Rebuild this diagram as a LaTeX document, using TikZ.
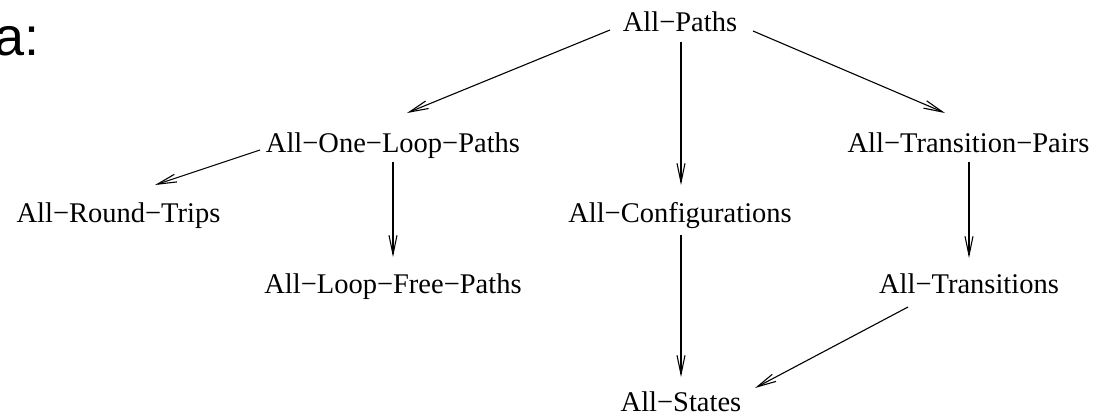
\documentclass[tikz,border=0pt]{standalone}
\usepackage{fontspec}
\setmainfont{Liberation Serif}
\newfontfamily\labelsans{Liberation Sans}
\usetikzlibrary{arrows.meta}
\begin{document}
\begin{tikzpicture}[x=1pt,y=-1pt,
  crit/.style={anchor=base,inner sep=0pt,font=\fontsize{28.5}{34}\selectfont},
  subsumes/.style={line width=1.1pt,-{Straight Barb[length=19pt,width=8pt,line width=1.1pt]}}]
\useasboundingbox (0,0) rectangle (1107,417);

% panel tag
\node[anchor=base west,inner sep=0pt,font=\labelsans\fontsize{54}{60}\selectfont] (tag) at (-6,56) {a:};

% coverage criteria
\node[crit] (p)   at (680,32)    {All−Paths};
\node[crit] (olp) at (393,152)   {All−One−Loop−Paths};
\node[crit] (tp)  at (968.5,152) {All−Transition−Pairs};
\node[crit] (rt)  at (118.5,222) {All−Round−Trips};
\node[crit] (cfg) at (680,222)   {All−Configurations};
\node[crit] (lfp) at (393,293)   {All−Loop−Free−Paths};
\node[crit] (tr)  at (969,293)   {All−Transitions};
\node[crit] (st)  at (681,411)   {All−States};

% subsumption hierarchy
\draw[subsumes] ([shift={(-70,-2)}]p.base)   -- ([shift={(14,-39)}]olp.base);
\draw[subsumes] ([shift={(1,10)}]p.base)     -- ([shift={(1,-37)}]cfg.base);
\draw[subsumes] ([shift={(73,-1)}]p.base)    -- ([shift={(-23.5,-39)}]tp.base);
\draw[subsumes] ([shift={(-133,-2)}]olp.base) -- ([shift={(36.5,-37)}]rt.base);
\draw[subsumes] ([shift={(0,10)}]olp.base)   -- ([shift={(0,-36)}]lfp.base);
\draw[subsumes] ([shift={(0.5,10)}]tp.base)  -- ([shift={(0,-35)}]tr.base);
\draw[subsumes] ([shift={(1,13)}]cfg.base)   -- ([shift={(0,-34)}]st.base);
\draw[subsumes] ([shift={(-61,14)}]tr.base)  -- ([shift={(74,-23)}]st.base);
\end{tikzpicture}
\end{document}
